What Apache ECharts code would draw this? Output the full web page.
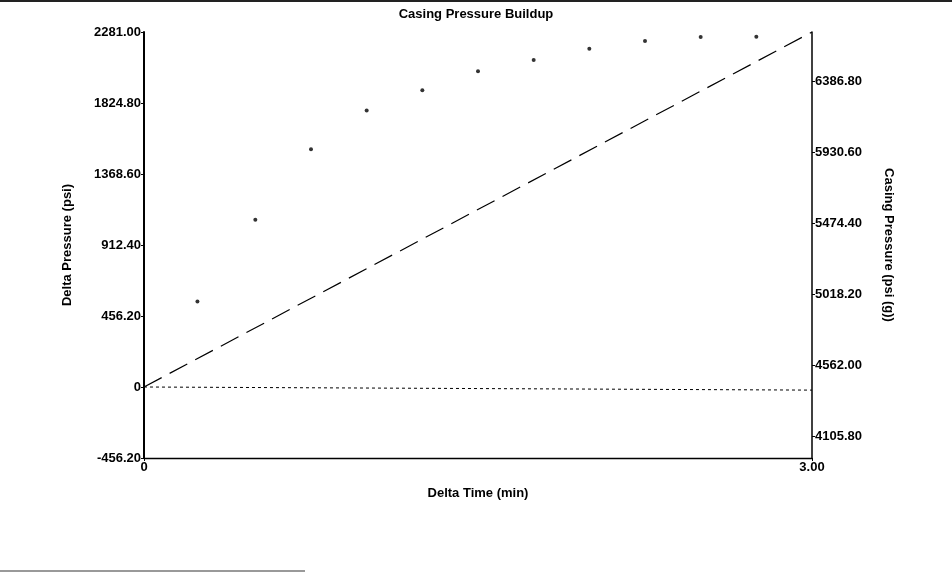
<!DOCTYPE html>
<html>
<head>
<meta charset="utf-8">
<title>Casing Pressure Buildup</title>
<script src="https://cdn.jsdelivr.net/npm/echarts@6/dist/echarts.min.js"></script>
<style>
  html, body { margin: 0; padding: 0; background: #fff; }
  #chart { width: 952px; height: 572px; }
</style>
</head>
<body>
<div id="chart"></div>
<script>
const pointTimes = [0.24, 0.5, 0.75, 1.0, 1.25, 1.5, 1.75, 2.0, 2.25, 2.5, 2.75];
const pointPressures = [550, 1075, 1528, 1776, 1907, 2029, 2101, 2174, 2223, 2249, 2251];

// Dashed reference line and dotted baseline (start / end)
const dashedTimes = [0, 3];
const dashedValues = [0, 2281];
const dottedTimes = [0, 3];
const dottedValues = [0, -20];

// Axis ticks
const leftTicks = [-456.2, 0, 456.2, 912.4, 1368.6, 1824.8, 2281];
const rightTicks = [4105.8, 4562, 5018.2, 5474.4, 5930.6, 6386.8];
const timeTicks = [0, 3];

const FONT = 'Liberation Sans, Arial, sans-serif';
const labelStyle = { color: '#000', fontFamily: FONT, fontWeight: 'bold', fontSize: 13 };

const pairs = (xs, ys) => xs.map((x, i) => [x, ys[i]]);

const chart = echarts.init(document.getElementById('chart'));

const option = {
    backgroundColor: '#fff',
    animation: false,
    title: {
        text: 'Casing Pressure Buildup',
        left: 'center',
        top: 3,
        textStyle: { color: '#000', fontFamily: FONT, fontWeight: 'bold', fontSize: 13 }
    },
    grid: { left: 144, right: 140, top: 32, bottom: 114 },
    xAxis: {
        type: 'value',
        min: 0,
        max: 3,
        name: 'Delta Time (min)',
        nameLocation: 'middle',
        nameGap: 29,
        nameTextStyle: labelStyle,
        axisLine: { onZero: false, lineStyle: { color: '#000', width: 1.3 } },
        axisTick: { show: true, length: 3, customValues: timeTicks, lineStyle: { color: '#000' } },
        axisLabel: Object.assign({
            margin: 3,
            customValues: timeTicks,
            formatter: v => (v === 0 ? '0' : v.toFixed(2))
        }, labelStyle),
        splitLine: { show: false }
    },
    yAxis: [{
        type: 'value',
        position: 'left',
        min: -456.2,
        max: 2281,
        interval: 456.2,
        name: 'Delta Pressure (psi)',
        nameLocation: 'middle',
        nameGap: 70,
        nameTextStyle: labelStyle,
        axisLine: { show: true, onZero: false, lineStyle: { color: '#000', width: 2 } },
        axisTick: { show: true, length: 3, customValues: leftTicks, lineStyle: { color: '#000' } },
        axisLabel: Object.assign({
            margin: 3,
            customValues: leftTicks,
            formatter: v => (Math.abs(v) < 1e-6 ? '0' : v.toFixed(2))
        }, labelStyle),
        splitLine: { show: false }
    }, {
        type: 'value',
        position: 'right',
        min: 3967,
        max: 6704,
        name: 'Casing Pressure (psi (g))',
        nameLocation: 'middle',
        nameRotate: -90,
        nameGap: 70,
        nameTextStyle: labelStyle,
        axisLine: { show: true, onZero: false, lineStyle: { color: '#000', width: 1.5 } },
        axisTick: { show: true, length: 3, customValues: rightTicks, lineStyle: { color: '#000' } },
        axisLabel: Object.assign({
            margin: 3,
            customValues: rightTicks,
            formatter: v => v.toFixed(2)
        }, labelStyle),
        splitLine: { show: false }
    }],
    series: [{
        name: 'Delta Pressure',
        type: 'scatter',
        yAxisIndex: 0,
        symbol: 'circle',
        symbolSize: 4,
        itemStyle: { color: '#000' },
        data: pairs(pointTimes, pointPressures)
    }, {
        name: 'Reference',
        type: 'line',
        yAxisIndex: 0,
        showSymbol: false,
        lineStyle: { color: '#000', width: 1.2, type: [20, 9] },
        data: pairs(dashedTimes, dashedValues)
    }, {
        name: 'Baseline',
        type: 'line',
        yAxisIndex: 0,
        showSymbol: false,
        lineStyle: { color: '#000', width: 1, type: [3, 3] },
        data: pairs(dottedTimes, dottedValues)
    }],
    graphic: [
        // scan edges of the original page
        { type: 'rect', shape: { x: 0, y: 0, width: 952, height: 2 }, style: { fill: '#222' } },
        { type: 'rect', shape: { x: 0, y: 570, width: 305, height: 2 }, style: { fill: '#999' } }
    ]
};

chart.setOption(option);
</script>
</body>
</html>
